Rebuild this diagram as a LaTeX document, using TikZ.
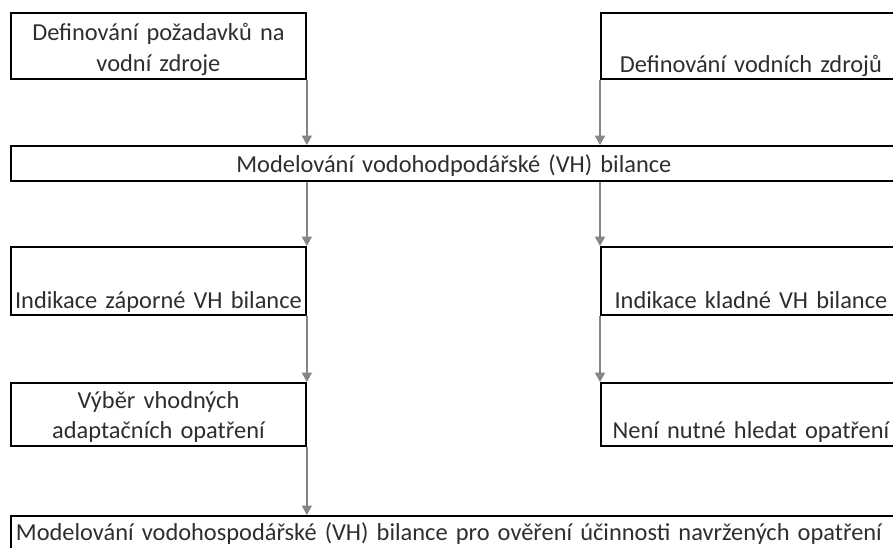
\documentclass[tikz,border=0pt]{standalone}
\usepackage{fontspec}
\setmainfont{Carlito}
\usetikzlibrary{arrows.meta,positioning}
\definecolor{linegray}{HTML}{858585}
\definecolor{textgray}{HTML}{2E2E2E}
\begin{document}
\begin{tikzpicture}[-{Triangle[length=7pt,width=7.5pt]},node distance=2cm,
        box/.style={rectangle,draw=black,line width=1.4pt,inner sep=0pt,anchor=north west,
          align=center,text=textgray,font=\fontsize{18.3}{23.25}\selectfont},
        lbox/.style={box,text width=221.25pt},
        rbox/.style={box,text width=225pt},
        wbox/.style={box,text width=664.5pt},
        conn/.style={draw=linegray,line width=1.1pt}]

      \useasboundingbox (0,0) rectangle (669.75pt,-410.25pt);
      \clip (0,0) rectangle (669.75pt,-410.25pt);

      \node[lbox,text height=21pt,text depth=28.5pt] (pozad) at (7.5pt,-9pt)
        {Definování požadavků na\\vodní zdroje};
      \node[rbox,text height=45pt,text depth=4.5pt] (zdroje) at (450pt,-9pt)
        {Definování vodních zdrojů};
      \node[wbox,text height=20.25pt,text depth=6pt] (model) at (7.5pt,-108.75pt)
        {Modelování vodohodpodářské (VH) bilance};
      \node[lbox,text height=46.5pt,text depth=4.5pt] (zapor) at (7.5pt,-184.5pt)
        {Indikace záporné VH bilance};
      \node[rbox,text height=46.5pt,text depth=4.5pt] (klad) at (450pt,-184.5pt)
        {Indikace kladné VH bilance};
      \node[lbox,text height=19.5pt,text depth=27.75pt,font=\fontsize{18.3}{22}\selectfont] (vyber) at (7.5pt,-286.5pt)
        {Výběr vhodných\\adaptačních opatření};
      \node[rbox,text height=42pt,text depth=5.25pt] (neni) at (450pt,-286.5pt)
        {Není nutné hledat opatření};
      \node[wbox,align=left,inner xsep=3.75pt,text width=657pt,text height=18.75pt,text depth=20pt] (overeni) at (7.5pt,-386.25pt)
        {Modelování vodohospodářské (VH) bilance pro ověření účinnosti navržených opatření};

      \path[every edge/.style={conn}]
        (pozad.south east) edge (pozad.south east |- model.north)
        (zdroje.south west) edge (zdroje.south west |- model.north)
        (model.south -| pozad.east) edge (zapor.north east)
        (model.south -| zdroje.west) edge (klad.north west)
        (zapor.south east) edge (vyber.north east)
        (klad.south west) edge (neni.north west)
        (vyber.south east) edge (vyber.south east |- overeni.north);
    \end{tikzpicture}
\end{document}
